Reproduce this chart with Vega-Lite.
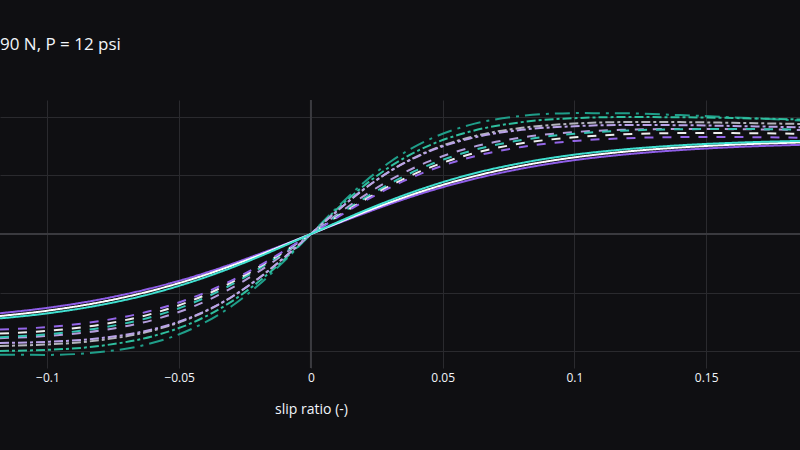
{
  "$schema": "https://vega.github.io/schema/vega-lite/v6.json",
  "width": 800,
  "height": 268,
  "autosize": {"type": "none"},
  "padding": {"top": 100, "left": 0, "right": 0, "bottom": 82},
  "background": "#0f0f12",
  "title": {
    "text": "90 N, P = 12 psi",
    "anchor": "start",
    "frame": "group",
    "baseline": "alphabetic",
    "offset": 32,
    "fontSize": 17,
    "fontWeight": "normal",
    "font": "Open Sans",
    "color": "#f2f5fa"
  },
  "config": {
    "view": {"stroke": null},
    "font": "Open Sans"
  },
  "datasets": {
    "curves": [
      {"s": "s1", "x": -0.118, "y": -1032}, {"s": "s1", "x": -0.1, "y": -1033}, {"s": "s1", "x": -0.08, "y": -1009}, {"s": "s1", "x": -0.06, "y": -930}, {"s": "s1", "x": -0.045, "y": -809}, {"s": "s1", "x": -0.03, "y": -615}, {"s": "s1", "x": -0.02, "y": -438}, {"s": "s1", "x": -0.01, "y": -228}, {"s": "s1", "x": 0, "y": 0}, {"s": "s1", "x": 0.01, "y": 228}, {"s": "s1", "x": 0.02, "y": 438}, {"s": "s1", "x": 0.03, "y": 615}, {"s": "s1", "x": 0.045, "y": 809}, {"s": "s1", "x": 0.06, "y": 930}, {"s": "s1", "x": 0.08, "y": 1009}, {"s": "s1", "x": 0.1, "y": 1033}, {"s": "s1", "x": 0.118, "y": 1032}, {"s": "s1", "x": 0.14, "y": 1016}, {"s": "s1", "x": 0.16, "y": 997}, {"s": "s1", "x": 0.186, "y": 969},
      {"s": "s2", "x": -0.118, "y": -999}, {"s": "s2", "x": -0.1, "y": -990}, {"s": "s2", "x": -0.08, "y": -956}, {"s": "s2", "x": -0.06, "y": -873}, {"s": "s2", "x": -0.045, "y": -758}, {"s": "s2", "x": -0.03, "y": -575}, {"s": "s2", "x": -0.02, "y": -410}, {"s": "s2", "x": -0.01, "y": -215}, {"s": "s2", "x": 0, "y": 0}, {"s": "s2", "x": 0.01, "y": 215}, {"s": "s2", "x": 0.02, "y": 410}, {"s": "s2", "x": 0.03, "y": 575}, {"s": "s2", "x": 0.045, "y": 758}, {"s": "s2", "x": 0.06, "y": 873}, {"s": "s2", "x": 0.08, "y": 956}, {"s": "s2", "x": 0.1, "y": 990}, {"s": "s2", "x": 0.118, "y": 999}, {"s": "s2", "x": 0.14, "y": 998}, {"s": "s2", "x": 0.16, "y": 991}, {"s": "s2", "x": 0.186, "y": 978},
      {"s": "s3", "x": -0.118, "y": -956}, {"s": "s3", "x": -0.1, "y": -944}, {"s": "s3", "x": -0.08, "y": -907}, {"s": "s3", "x": -0.06, "y": -825}, {"s": "s3", "x": -0.045, "y": -712}, {"s": "s3", "x": -0.03, "y": -537}, {"s": "s3", "x": -0.02, "y": -380}, {"s": "s3", "x": -0.01, "y": -198}, {"s": "s3", "x": 0, "y": 0}, {"s": "s3", "x": 0.01, "y": 198}, {"s": "s3", "x": 0.02, "y": 380}, {"s": "s3", "x": 0.03, "y": 537}, {"s": "s3", "x": 0.045, "y": 712}, {"s": "s3", "x": 0.06, "y": 825}, {"s": "s3", "x": 0.08, "y": 907}, {"s": "s3", "x": 0.1, "y": 944}, {"s": "s3", "x": 0.118, "y": 956}, {"s": "s3", "x": 0.14, "y": 956}, {"s": "s3", "x": 0.16, "y": 950}, {"s": "s3", "x": 0.186, "y": 940},
      {"s": "s4", "x": -0.118, "y": -931}, {"s": "s4", "x": -0.1, "y": -921}, {"s": "s4", "x": -0.08, "y": -890}, {"s": "s4", "x": -0.06, "y": -814}, {"s": "s4", "x": -0.045, "y": -707}, {"s": "s4", "x": -0.03, "y": -536}, {"s": "s4", "x": -0.02, "y": -382}, {"s": "s4", "x": -0.01, "y": -199}, {"s": "s4", "x": 0, "y": 0}, {"s": "s4", "x": 0.01, "y": 199}, {"s": "s4", "x": 0.02, "y": 382}, {"s": "s4", "x": 0.03, "y": 536}, {"s": "s4", "x": 0.045, "y": 707}, {"s": "s4", "x": 0.06, "y": 814}, {"s": "s4", "x": 0.08, "y": 890}, {"s": "s4", "x": 0.1, "y": 921}, {"s": "s4", "x": 0.118, "y": 931}, {"s": "s4", "x": 0.14, "y": 930}, {"s": "s4", "x": 0.16, "y": 923}, {"s": "s4", "x": 0.186, "y": 911},
      {"s": "s5", "x": -0.118, "y": -890}, {"s": "s5", "x": -0.1, "y": -871}, {"s": "s5", "x": -0.08, "y": -825}, {"s": "s5", "x": -0.06, "y": -735}, {"s": "s5", "x": -0.045, "y": -623}, {"s": "s5", "x": -0.03, "y": -461}, {"s": "s5", "x": -0.02, "y": -324}, {"s": "s5", "x": -0.01, "y": -168}, {"s": "s5", "x": 0, "y": 0}, {"s": "s5", "x": 0.01, "y": 168}, {"s": "s5", "x": 0.02, "y": 324}, {"s": "s5", "x": 0.03, "y": 461}, {"s": "s5", "x": 0.045, "y": 623}, {"s": "s5", "x": 0.06, "y": 735}, {"s": "s5", "x": 0.08, "y": 825}, {"s": "s5", "x": 0.1, "y": 871}, {"s": "s5", "x": 0.118, "y": 890}, {"s": "s5", "x": 0.14, "y": 897}, {"s": "s5", "x": 0.16, "y": 896}, {"s": "s5", "x": 0.186, "y": 889},
      {"s": "s6", "x": -0.118, "y": -882}, {"s": "s6", "x": -0.1, "y": -857}, {"s": "s6", "x": -0.08, "y": -803}, {"s": "s6", "x": -0.06, "y": -706}, {"s": "s6", "x": -0.045, "y": -591}, {"s": "s6", "x": -0.03, "y": -431}, {"s": "s6", "x": -0.02, "y": -301}, {"s": "s6", "x": -0.01, "y": -155}, {"s": "s6", "x": 0, "y": 0}, {"s": "s6", "x": 0.01, "y": 155}, {"s": "s6", "x": 0.02, "y": 301}, {"s": "s6", "x": 0.03, "y": 431}, {"s": "s6", "x": 0.045, "y": 591}, {"s": "s6", "x": 0.06, "y": 706}, {"s": "s6", "x": 0.08, "y": 803}, {"s": "s6", "x": 0.1, "y": 857}, {"s": "s6", "x": 0.118, "y": 882}, {"s": "s6", "x": 0.14, "y": 895}, {"s": "s6", "x": 0.16, "y": 897}, {"s": "s6", "x": 0.186, "y": 893},
      {"s": "s7", "x": -0.118, "y": -851}, {"s": "s7", "x": -0.1, "y": -827}, {"s": "s7", "x": -0.08, "y": -775}, {"s": "s7", "x": -0.06, "y": -679}, {"s": "s7", "x": -0.045, "y": -567}, {"s": "s7", "x": -0.03, "y": -412}, {"s": "s7", "x": -0.02, "y": -287}, {"s": "s7", "x": -0.01, "y": -148}, {"s": "s7", "x": 0, "y": 0}, {"s": "s7", "x": 0.01, "y": 148}, {"s": "s7", "x": 0.02, "y": 287}, {"s": "s7", "x": 0.03, "y": 412}, {"s": "s7", "x": 0.045, "y": 567}, {"s": "s7", "x": 0.06, "y": 679}, {"s": "s7", "x": 0.08, "y": 775}, {"s": "s7", "x": 0.1, "y": 827}, {"s": "s7", "x": 0.118, "y": 851}, {"s": "s7", "x": 0.14, "y": 862}, {"s": "s7", "x": 0.16, "y": 862}, {"s": "s7", "x": 0.186, "y": 856},
      {"s": "s8", "x": -0.118, "y": -817}, {"s": "s8", "x": -0.1, "y": -795}, {"s": "s8", "x": -0.08, "y": -744}, {"s": "s8", "x": -0.06, "y": -652}, {"s": "s8", "x": -0.045, "y": -544}, {"s": "s8", "x": -0.03, "y": -396}, {"s": "s8", "x": -0.02, "y": -276}, {"s": "s8", "x": -0.01, "y": -142}, {"s": "s8", "x": 0, "y": 0}, {"s": "s8", "x": 0.01, "y": 142}, {"s": "s8", "x": 0.02, "y": 276}, {"s": "s8", "x": 0.03, "y": 396}, {"s": "s8", "x": 0.045, "y": 544}, {"s": "s8", "x": 0.06, "y": 652}, {"s": "s8", "x": 0.08, "y": 744}, {"s": "s8", "x": 0.1, "y": 795}, {"s": "s8", "x": 0.118, "y": 817}, {"s": "s8", "x": 0.14, "y": 828}, {"s": "s8", "x": 0.16, "y": 828}, {"s": "s8", "x": 0.186, "y": 822},
      {"s": "s9", "x": -0.118, "y": -677}, {"s": "s9", "x": -0.1, "y": -631}, {"s": "s9", "x": -0.08, "y": -559}, {"s": "s9", "x": -0.06, "y": -460}, {"s": "s9", "x": -0.045, "y": -367}, {"s": "s9", "x": -0.03, "y": -256}, {"s": "s9", "x": -0.02, "y": -174}, {"s": "s9", "x": -0.01, "y": -89}, {"s": "s9", "x": 0, "y": 0}, {"s": "s9", "x": 0.01, "y": 89}, {"s": "s9", "x": 0.02, "y": 174}, {"s": "s9", "x": 0.03, "y": 256}, {"s": "s9", "x": 0.045, "y": 367}, {"s": "s9", "x": 0.06, "y": 460}, {"s": "s9", "x": 0.08, "y": 559}, {"s": "s9", "x": 0.1, "y": 631}, {"s": "s9", "x": 0.118, "y": 677}, {"s": "s9", "x": 0.14, "y": 717}, {"s": "s9", "x": 0.16, "y": 742}, {"s": "s9", "x": 0.186, "y": 762},
      {"s": "s10", "x": -0.118, "y": -701}, {"s": "s10", "x": -0.1, "y": -655}, {"s": "s10", "x": -0.08, "y": -583}, {"s": "s10", "x": -0.06, "y": -482}, {"s": "s10", "x": -0.045, "y": -385}, {"s": "s10", "x": -0.03, "y": -270}, {"s": "s10", "x": -0.02, "y": -185}, {"s": "s10", "x": -0.01, "y": -93}, {"s": "s10", "x": 0, "y": 0}, {"s": "s10", "x": 0.01, "y": 93}, {"s": "s10", "x": 0.02, "y": 185}, {"s": "s10", "x": 0.03, "y": 270}, {"s": "s10", "x": 0.045, "y": 385}, {"s": "s10", "x": 0.06, "y": 482}, {"s": "s10", "x": 0.08, "y": 583}, {"s": "s10", "x": 0.1, "y": 655}, {"s": "s10", "x": 0.118, "y": 701}, {"s": "s10", "x": 0.14, "y": 739}, {"s": "s10", "x": 0.16, "y": 763}, {"s": "s10", "x": 0.186, "y": 782},
      {"s": "s11", "x": -0.118, "y": -721}, {"s": "s11", "x": -0.1, "y": -678}, {"s": "s11", "x": -0.08, "y": -607}, {"s": "s11", "x": -0.06, "y": -507}, {"s": "s11", "x": -0.045, "y": -407}, {"s": "s11", "x": -0.03, "y": -287}, {"s": "s11", "x": -0.02, "y": -197}, {"s": "s11", "x": -0.01, "y": -100}, {"s": "s11", "x": 0, "y": 0}, {"s": "s11", "x": 0.01, "y": 100}, {"s": "s11", "x": 0.02, "y": 197}, {"s": "s11", "x": 0.03, "y": 287}, {"s": "s11", "x": 0.045, "y": 407}, {"s": "s11", "x": 0.06, "y": 507}, {"s": "s11", "x": 0.08, "y": 607}, {"s": "s11", "x": 0.1, "y": 678}, {"s": "s11", "x": 0.118, "y": 721}, {"s": "s11", "x": 0.14, "y": 758}, {"s": "s11", "x": 0.16, "y": 779}, {"s": "s11", "x": 0.186, "y": 796}
    ],
    "zeros": [{"v": 0}]
  },
  "encoding": {
    "x": {
      "type": "quantitative",
      "scale": {"domain": [-0.118, 0.1856], "nice": false, "zero": false},
      "axis": {
        "values": [-0.1, -0.05, 0, 0.05, 0.1, 0.15],
        "format": "~g",
        "grid": true,
        "gridColor": "#2a2a2e",
        "gridWidth": 1,
        "ticks": false,
        "domain": false,
        "labelColor": "#f2f5fa",
        "labelFontSize": 12,
        "labelPadding": 4,
        "title": "slip ratio (-)",
        "titleColor": "#f2f5fa",
        "titleFontSize": 14,
        "titleFontWeight": "normal",
        "titleX": 311,
        "titleY": 45,
        "titleAlign": "center",
        "titleBaseline": "alphabetic"
      }
    },
    "y": {
      "type": "quantitative",
      "scale": {"domain": [-1145, 1145], "nice": false},
      "axis": {
        "values": [-1000, -500, 0, 500, 1000],
        "grid": true,
        "gridColor": "#2a2a2e",
        "gridWidth": 1,
        "labels": false,
        "ticks": false,
        "domain": false,
        "title": null
      }
    }
  },
  "layer": [
    {
      "data": {"name": "zeros"},
      "mark": {"type": "rule", "color": "#3a3a3f", "strokeWidth": 2},
      "encoding": {"x": {"field": "v"}}
    },
    {
      "data": {"name": "zeros"},
      "mark": {"type": "rule", "color": "#3a3a3f", "strokeWidth": 2},
      "encoding": {"y": {"field": "v"}}
    },
    {
      "data": {"name": "curves"},
      "mark": {"type": "line", "strokeWidth": 2, "interpolate": "monotone", "clip": true},
      "encoding": {
        "x": {"field": "x"},
        "y": {"field": "y"},
        "color": {
          "field": "s",
          "type": "nominal",
          "legend": null,
          "scale": {
            "domain": ["s1", "s2", "s3", "s4", "s5", "s6", "s7", "s8", "s9", "s10", "s11"],
            "range": ["#1f9e89", "#2fbf9f", "#b4b4bc", "#b9a2e8", "#b39ddb", "#35c4b2", "#eeeeee", "#9466e8", "#8f5ee8", "#ffffff", "#40e0d0"]
          }
        },
        "strokeDash": {
          "field": "s",
          "type": "nominal",
          "legend": null,
          "scale": {
            "domain": ["s1", "s2", "s3", "s4", "s5", "s6", "s7", "s8", "s9", "s10", "s11"],
            "range": [[15, 6, 3, 6], [9, 3, 3, 3], [9, 3, 3, 3], [9, 3, 3, 3], [9, 9], [9, 9], [9, 9], [9, 9], [1, 0], [1, 0], [1, 0]]
          }
        }
      }
    }
  ]
}
